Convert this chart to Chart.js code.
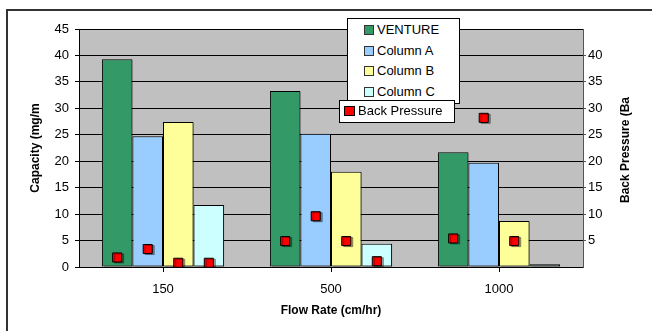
<!DOCTYPE html>
<html>
<head>
<meta charset="utf-8">
<script src="https://cdn.jsdelivr.net/npm/chart.js@4"></script>
<style>
  body { margin: 0; background: #fff; }
  #wrap { position: relative; width: 652px; height: 331px; overflow: hidden; font-family: "Liberation Sans", Arial, sans-serif; }
  #frame { position: absolute; left: 6px; top: 9px; width: 700px; height: 400px; border-left: 2px solid #333; border-top: 2px solid #333; }
  .legend { position: absolute; background: #fff; border: 1px solid #000; }
  .item { position: absolute; font-size: 13px; line-height: 14px; color: #000; white-space: nowrap; }
  .sw { position: absolute; border: 1px solid #333; box-sizing: border-box; }
</style>
</head>
<body>
<div id="wrap">
  <div id="frame"></div>
  <canvas id="chart" width="652" height="331" style="position:absolute;left:0;top:0"></canvas>
  <div class="legend" id="legBars" style="left:347px;top:18px;width:111px;height:84px"></div>
  <div class="legend" id="legPress" style="left:339px;top:100px;width:114px;height:21px"></div>
</div>
<script>
// Daten
const flowRates = ['150', '500', '1000'];
const seriesNames = ['VENTURE', 'Column A', 'Column B', 'Column C'];
const seriesColors = ['#339966', '#99CCFF', '#FFFF99', '#CCFFFF'];

const venture = [39.3, 33.3, 21.7];
const columnA = [24.7, 25.2, 19.7];
const columnB = [27.4, 18.0, 8.7];
const columnC = [11.7, 4.4, 0.5];

// Back Pressure: ein Punkt pro Säule
const pressVenture = [1.8, 4.9, 5.4];
const pressColumnA = [3.4, 9.6, 28.2];
const pressColumnB = [0.8, 4.9, 4.9];
const pressColumnC = [0.8, 1.1, null];

const capacityTicks = [0, 5, 10, 15, 20, 25, 30, 35, 40, 45];
const pressureTicks = [5, 10, 15, 20, 25, 30, 35, 40];

const barValues = [venture, columnA, columnB, columnC];
const pressValues = [pressVenture, pressColumnA, pressColumnB, pressColumnC];

// Excel: Abstand zwischen Gruppen = 1.5 Säulenbreiten
const catPct = 4 / 5.5;
const barFrac = catPct / seriesNames.length;

// Punkte mittig über die jeweilige Säule legen
let pressPoints = [];
pressValues.forEach((vals, j) => {
  vals.forEach((v, i) => {
    if (v !== null) pressPoints.push({ x: i + 0.5 + (j - 1.5) * barFrac, y: v });
  });
});

const font = "'Liberation Sans', Arial, sans-serif";

const plotBg = {
  id: 'plotBg',
  beforeDraw(chart) {
    const { ctx, chartArea: a } = chart;
    ctx.save();
    ctx.fillStyle = '#C0C0C0';
    ctx.fillRect(a.left, a.top, a.right - a.left, a.bottom - a.top);
    ctx.restore();
  },
  // leichter Schatten wie in Excel
  beforeDatasetsDraw(chart) {
    const ctx = chart.ctx;
    ctx.save();
    ctx.shadowColor = 'rgba(0,0,0,0.35)';
    ctx.shadowOffsetX = 2;
    ctx.shadowOffsetY = 1;
    ctx.shadowBlur = 0;
  },
  afterDatasetsDraw(chart) {
    chart.ctx.restore();
  },
  afterDraw(chart) {
    // rechter Achsentitel, von unten nach oben
    const { ctx, chartArea: a } = chart;
    ctx.save();
    ctx.translate(626, (a.top + a.bottom) / 2 + 2);
    ctx.rotate(-Math.PI / 2);
    ctx.font = 'bold 12px ' + font;
    ctx.fillStyle = '#000';
    ctx.textAlign = 'center';
    ctx.textBaseline = 'middle';
    ctx.fillText('Back Pressure (Ba', 0, 0);
    ctx.restore();
  }
};

const datasets = seriesNames.map((name, j) => ({
  type: 'bar',
  label: name,
  data: barValues[j].map((v, i) => ({ x: i + 0.5, y: v })),
  backgroundColor: seriesColors[j],
  borderColor: '#000',
  borderWidth: 1,
  borderSkipped: false,
  categoryPercentage: catPct,
  barPercentage: 1,
  xAxisID: 'x',
  yAxisID: 'y',
  order: 2
}));

datasets.push({
  type: 'scatter',
  label: 'Back Pressure',
  data: pressPoints,
  xAxisID: 'x',
  yAxisID: 'y2',
  pointStyle: 'rect',
  pointRadius: 6.4,
  pointHoverRadius: 6.4,
  pointBackgroundColor: '#FF0000',
  pointBorderColor: '#000',
  pointBorderWidth: 1,
  showLine: false,
  order: 1
});

const chart = new Chart(document.querySelector('#chart'), {
  type: 'bar',
  data: { labels: flowRates, datasets: datasets },
  options: {
    responsive: false,
    animation: false,
    devicePixelRatio: 1,
    layout: { padding: { top: 29, left: 0, right: 0, bottom: 0 } },
    plugins: { legend: { display: false }, tooltip: { enabled: false } },
    scales: {
      // lineare x-Achse: Gruppen bei 0.5, 1.5, 2.5, Teilstriche an den Grenzen
      x: {
        type: 'linear',
        position: 'bottom',
        offset: false,
        min: 0, max: flowRates.length,
        afterBuildTicks(s) { s.ticks = flowRates.concat(['']).map((l, i) => ({ value: i })); },
        grid: { drawOnChartArea: false, color: '#000', tickLength: 5 },
        border: { color: '#000' },
        ticks: { display: false },
        afterFit(s) { s.height = 5; }
      },
      // Beschriftung der Kategorien
      xl: {
        type: 'category',
        position: 'bottom',
        offset: true,
        grid: { display: false, drawTicks: false },
        border: { display: false },
        ticks: { color: '#000', font: { family: font, size: 13 }, padding: 10 },
        title: { display: true, text: 'Flow Rate (cm/hr)', color: '#000', font: { family: font, size: 12, weight: 'bold' }, padding: { top: 0, bottom: 13 } },
        afterFit(s) { s.height = 59; }
      },
      y: {
        position: 'left',
        min: 0, max: 45,
        afterBuildTicks(s) { s.ticks = capacityTicks.map(v => ({ value: v })); },
        grid: { color: '#000', tickLength: 4 },
        border: { color: '#000' },
        ticks: { color: '#000', font: { family: font, size: 13 }, padding: 6 },
        title: { display: true, text: 'Capacity (mg/m', color: '#000', font: { family: font, size: 12, weight: 'bold' }, padding: { top: 28, bottom: 0 } },
        afterFit(s) { s.width = 79; }
      },
      y2: {
        position: 'right',
        min: 0, max: 45,
        afterBuildTicks(s) { s.ticks = pressureTicks.map(v => ({ value: v })); },
        grid: { drawOnChartArea: false, color: '#555', tickLength: 3 },
        border: { color: '#555' },
        ticks: { color: '#000', font: { family: font, size: 13 }, padding: 2 },
        afterFit(s) { s.width = 69; }
      }
    }
  },
  plugins: [plotBg]
});

// Legenden als HTML
const legBars = document.querySelector('#legBars');
seriesNames.forEach((name, j) => {
  const top = 4 + j * 20.6;
  legBars.innerHTML += '<div class="sw" style="left:16px;top:' + (top + 2) + 'px;width:10px;height:10px;background:' + seriesColors[j] + '"></div>' +
    '<div class="item" style="left:29px;top:' + top + 'px">' + name + '</div>';
});
document.querySelector('#legPress').innerHTML =
  '<div class="sw" style="left:4px;top:5px;width:11px;height:10px;background:#FF0000;border-color:#000"></div>' +
  '<div class="item" style="left:18px;top:3px">Back Pressure</div>';
</script>
</body>
</html>
